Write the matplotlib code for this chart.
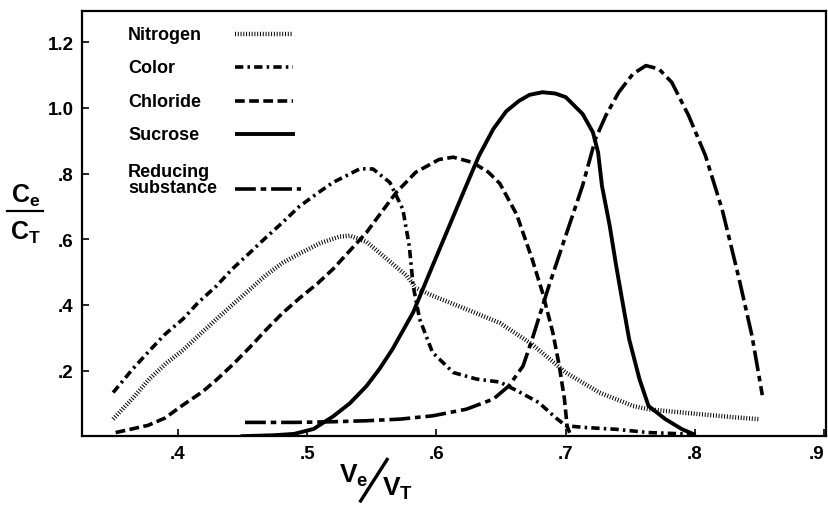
import numpy as np
import matplotlib
matplotlib.use("Agg")
import matplotlib.pyplot as plt
from matplotlib.lines import Line2D

plt.rcParams['font.family'] = ['Liberation Sans', 'DejaVu Sans']
plt.rcParams['mathtext.fontset'] = 'custom'
plt.rcParams['mathtext.sf'] = 'Liberation Sans:bold'
plt.rcParams['mathtext.rm'] = 'Liberation Sans:bold'
plt.rcParams['lines.scale_dashes'] = False

# data (Ve/VT , Ce/CT)
nitrogen_x = [0.350, 0.365, 0.378, 0.391, 0.404, 0.417, 0.430, 0.443, 0.456, 0.468, 0.481,
              0.494, 0.510, 0.525, 0.533, 0.546, 0.561, 0.577, 0.584, 0.597, 0.623, 0.649,
              0.674, 0.700, 0.726, 0.752, 0.764, 0.790, 0.829, 0.849]
nitrogen_y = [0.052, 0.115, 0.174, 0.222, 0.262, 0.310, 0.357, 0.403, 0.448, 0.490, 0.528,
              0.556, 0.588, 0.608, 0.611, 0.592, 0.542, 0.489, 0.452, 0.428, 0.387, 0.345,
              0.280, 0.194, 0.133, 0.092, 0.082, 0.072, 0.058, 0.052]

color_x = [0.350, 0.365, 0.378, 0.390, 0.404, 0.416, 0.430, 0.442, 0.456, 0.467, 0.481,
           0.494, 0.509, 0.520, 0.541, 0.551, 0.564, 0.574, 0.579, 0.582, 0.587, 0.597,
           0.613, 0.631, 0.649, 0.664, 0.679, 0.692, 0.700, 0.713, 0.739, 0.764, 0.798]
color_y = [0.133, 0.204, 0.260, 0.310, 0.357, 0.408, 0.458, 0.509, 0.560, 0.601, 0.651,
           0.700, 0.743, 0.773, 0.815, 0.814, 0.773, 0.692, 0.580, 0.458, 0.357, 0.255,
           0.194, 0.174, 0.165, 0.135, 0.103, 0.057, 0.032, 0.027, 0.021, 0.011, 0.006]

chloride_x = [0.352, 0.377, 0.390, 0.404, 0.419, 0.430, 0.443, 0.456, 0.468, 0.481, 0.494,
              0.508, 0.520, 0.533, 0.546, 0.558, 0.569, 0.584, 0.602, 0.613, 0.628, 0.640,
              0.649, 0.662, 0.674, 0.682, 0.690, 0.695, 0.699, 0.701, 0.703]
chloride_y = [0.011, 0.033, 0.055, 0.095, 0.135, 0.172, 0.220, 0.272, 0.323, 0.375, 0.420,
              0.465, 0.509, 0.565, 0.621, 0.685, 0.743, 0.804, 0.843, 0.850, 0.834, 0.805,
              0.770, 0.676, 0.540, 0.438, 0.316, 0.214, 0.113, 0.032, 0.010]

sucrose_x = [0.450, 0.475, 0.490, 0.505, 0.520, 0.533, 0.546, 0.556, 0.566, 0.582, 0.597,
             0.610, 0.623, 0.633, 0.644, 0.654, 0.664, 0.672, 0.682, 0.692, 0.700, 0.713,
             0.721, 0.725, 0.728, 0.734, 0.739, 0.744, 0.749, 0.757, 0.764, 0.777, 0.790, 0.799]
sucrose_y = [0.000, 0.003, 0.007, 0.022, 0.060, 0.100, 0.153, 0.205, 0.265, 0.377, 0.519,
             0.641, 0.763, 0.855, 0.936, 0.990, 1.022, 1.040, 1.048, 1.044, 1.033, 0.982,
             0.926, 0.865, 0.763, 0.641, 0.519, 0.407, 0.296, 0.174, 0.092, 0.052, 0.021, 0.006]

reducing_x = [0.452, 0.491, 0.520, 0.546, 0.572, 0.597, 0.623, 0.644, 0.656, 0.667, 0.674,
              0.687, 0.700, 0.713, 0.723, 0.731, 0.741, 0.752, 0.762, 0.772, 0.782, 0.795,
              0.808, 0.821, 0.834, 0.844, 0.852]
reducing_y = [0.042, 0.042, 0.044, 0.047, 0.052, 0.062, 0.082, 0.113, 0.153, 0.214, 0.295,
              0.458, 0.611, 0.763, 0.906, 0.977, 1.048, 1.104, 1.129, 1.119, 1.078, 0.977,
              0.855, 0.690, 0.480, 0.306, 0.125]

x_ticks = [0.4, 0.5, 0.6, 0.7, 0.8, 0.9]
x_labels = ['.4', '.5', '.6', '.7', '.8', '.9']
y_ticks = [0.2, 0.4, 0.6, 0.8, 1.0, 1.2]
y_labels = ['.2', '.4', '.6', '.8', '1.0', '1.2']

names = ['Nitrogen', 'Color', 'Chloride', 'Sucrose', 'Reducing\nsubstance']
styles = {
    'Nitrogen': dict(lw=3.2, ls=(0, (0.7, 1.3)), dash_capstyle='butt'),
    'Color': dict(lw=2.6, ls=(0, (6, 3, 1.8, 3))),
    'Chloride': dict(lw=2.6, ls=(0, (7, 3.2))),
    'Sucrose': dict(lw=2.8, ls='-'),
    'Reducing\nsubstance': dict(lw=2.6, ls=(0, (15, 3.5, 4, 3.5))),
}
series = {
    'Nitrogen': (nitrogen_x, nitrogen_y),
    'Color': (color_x, color_y),
    'Chloride': (chloride_x, chloride_y),
    'Sucrose': (sucrose_x, sucrose_y),
    'Reducing\nsubstance': (reducing_x, reducing_y),
}

fig = plt.figure(figsize=(8.29, 5.06), dpi=100)
ax = fig.add_axes([0.099, 0.136, 0.897, 0.840])

for n in names:
    xs, ys = series[n]
    ax.plot(xs, ys, color='black', solid_joinstyle='round', **styles[n])

ax.set_xlim(0.326, 0.901)
ax.set_ylim(0, 1.295)
ax.set_xticks(x_ticks)
ax.set_xticklabels(x_labels)
ax.set_yticks(y_ticks)
ax.set_yticklabels(y_labels)
ax.tick_params(direction='in', length=5, width=1.2, labelsize=13.5, pad=6)
for lab in ax.get_xticklabels() + ax.get_yticklabels():
    lab.set_fontweight('bold')
ax.get_xticklabels()[-1].set_horizontalalignment('right')
for s in ax.spines.values():
    s.set_linewidth(1.6)

# hand drawn legend
leg_y = [1.225, 1.124, 1.021, 0.920, 0.782]
line_y = [1.225, 1.124, 1.021, 0.920, 0.752]
line_x0 = [0.444, 0.444, 0.444, 0.446, 0.444]
line_x1 = [0.489, 0.489, 0.489, 0.489, 0.495]
for n, ty, ly, x0, x1 in zip(names, leg_y, line_y, line_x0, line_x1):
    ax.text(0.3615, ty, n, fontsize=13, fontweight='bold', va='center', ha='left',
            linespacing=0.95)
    ax.plot([x0, x1], [ly, ly], color='black', **styles[n])

# y label: Ce over CT
fig.text(0.031, 0.612, r'C$_\mathsf{e}$', fontsize=18, fontweight='bold', ha='center', va='center')
fig.text(0.031, 0.540, r'C$_\mathsf{T}$', fontsize=18, fontweight='bold', ha='center', va='center')
fig.add_artist(Line2D([0.009, 0.052], [0.581, 0.581], color='black', lw=1.6))

# x label: Ve / VT
fig.text(0.427, 0.060, r'V$_\mathsf{e}$', fontsize=19, fontweight='bold', ha='center', va='center')
fig.add_artist(Line2D([0.435, 0.467], [0.008, 0.090], color='black', lw=2.4))
fig.text(0.480, 0.034, r'V$_\mathsf{T}$', fontsize=19, fontweight='bold', ha='center', va='center')

fig.savefig('out.png', dpi=100)
